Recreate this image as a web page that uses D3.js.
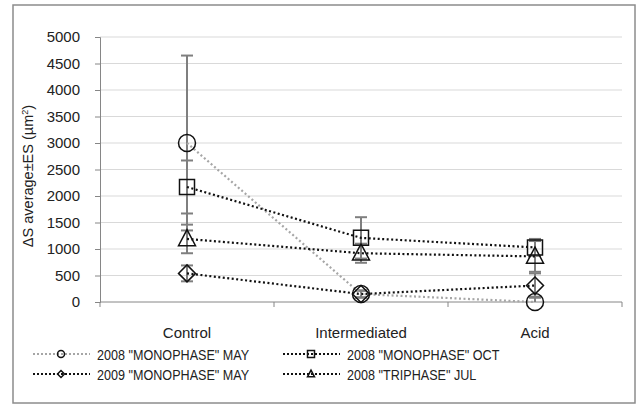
<!DOCTYPE html>
<html>
<head>
<meta charset="utf-8">
<script src="https://cdn.jsdelivr.net/npm/d3@7"></script>
<style>
  body { margin: 0; background: #fff; }
  text { font-family: "Liberation Sans", Arial, sans-serif; fill: #222; }
</style>
</head>
<body>
<div id="chart"></div>
<script>
const categories = ["Control", "Intermediated", "Acid"];
const yTicks = [0, 500, 1000, 1500, 2000, 2500, 3000, 3500, 4000, 4500, 5000];

const seriesNames = ['2008 "MONOPHASE" MAY', '2008 "MONOPHASE" OCT', '2009 "MONOPHASE" MAY', '2008 "TRIPHASE" JUL'];
const may2008 = [3000, 150, 0];
const may2008Err = [1650, 70, 100];
const oct2008 = [2170, 1210, 1030];
const oct2008Err = [500, 390, 160];
const may2009 = [540, 150, 310];
const may2009Err = [150, 60, 230];
const jul2008 = [1190, 920, 860];
const jul2008Err = [270, 180, 290];

const width = 638, height = 412;
const margin = {top: 37, right: 16, bottom: 110, left: 100};

const svg = d3.select("#chart").append("svg")
  .attr("width", width).attr("height", height);

// outer frame
svg.append("rect")
  .attr("x", 13).attr("y", 5).attr("width", 622).attr("height", 398)
  .attr("fill", "#fff").attr("stroke", "#8c8c8c").attr("stroke-width", 1.5);

const x = d3.scaleBand().domain(categories).range([margin.left, width - margin.right]);
const y = d3.scaleLinear().domain([0, 5000]).range([height - margin.bottom, margin.top]);
const cx = c => x(c) + x.bandwidth() / 2;

// grid
svg.append("g").selectAll("line").data(yTicks.slice(1)).join("line")
  .attr("x1", margin.left).attr("x2", width - margin.right)
  .attr("y1", d => y(d)).attr("y2", d => y(d))
  .attr("stroke", "#d9d9d9").attr("stroke-width", 1);

// y axis
const yAxis = svg.append("g")
  .attr("transform", `translate(${margin.left},0)`)
  .call(d3.axisLeft(y).tickValues(yTicks).tickFormat(d3.format("d")).tickSize(5).tickPadding(15));
yAxis.selectAll("line, path").attr("stroke", "#868686");
yAxis.selectAll("text").style("font-size", "15px")
  .style("font-family", '"Liberation Sans", Arial, sans-serif').attr("fill", "#222");

// x axis with ticks at band edges
const xAxisG = svg.append("g");
xAxisG.append("line")
  .attr("x1", margin.left).attr("x2", width - margin.right)
  .attr("y1", y(0)).attr("y2", y(0)).attr("stroke", "#868686");
const edges = categories.map(c => x(c)).concat([x(categories[2]) + x.bandwidth()]);
xAxisG.selectAll(".tk").data(edges).join("line")
  .attr("x1", d => d).attr("x2", d => d)
  .attr("y1", y(0)).attr("y2", y(0) + 5).attr("stroke", "#868686");
xAxisG.selectAll("text").data(categories).join("text")
  .attr("x", d => cx(d)).attr("y", y(0) + 36)
  .attr("text-anchor", "middle").style("font-size", "15px").text(d => d);

// y title
const title = svg.append("text")
  .attr("transform", `translate(33,176) rotate(-90)`)
  .attr("text-anchor", "middle").style("font-size", "14.5px");
title.append("tspan").text("ΔS average±ES (µm");
title.append("tspan").attr("baseline-shift", "super").style("font-size", "9px").text("2");
title.append("tspan").text(")");

// symbols
function symbolPath(type, s) {
  if (type === "circle") return `M${-s},0A${s},${s} 0 1,0 ${s},0A${s},${s} 0 1,0 ${-s},0Z`;
  if (type === "square") return `M${-s},${-s}H${s}V${s}H${-s}Z`;
  if (type === "diamond") return `M0,${-s}L${s},0L0,${s}L${-s},0Z`;
  if (type === "triangle") return `M0,${-s * 1.1}L${s},${s * 0.8}L${-s},${s * 0.8}Z`;
}

const series = [
  {name: seriesNames[0], values: may2008, err: may2008Err, shape: "circle", color: "#a6a6a6", size: 8.5},
  {name: seriesNames[1], values: oct2008, err: oct2008Err, shape: "square", color: "#111", size: 7.5},
  {name: seriesNames[2], values: may2009, err: may2009Err, shape: "diamond", color: "#111", size: 8.5},
  {name: seriesNames[3], values: jul2008, err: jul2008Err, shape: "triangle", color: "#111", size: 8.5}
];

const line = d3.line().x((d, i) => cx(categories[i])).y(d => y(d));

// error bars
series.forEach(s => {
  const g = svg.append("g").attr("stroke", "#7f7f7f").attr("stroke-width", 2);
  s.values.forEach((v, i) => {
    const px = cx(categories[i]);
    g.append("line").attr("x1", px).attr("x2", px)
      .attr("y1", y(v + s.err[i])).attr("y2", y(Math.max(0, v - s.err[i])));
    [v + s.err[i], v - s.err[i]].forEach(e => {
      if (e < 0) return;
      g.append("line").attr("x1", px - 6).attr("x2", px + 6)
        .attr("y1", y(e)).attr("y2", y(e));
    });
  });
});

// lines
series.forEach(s => {
  svg.append("path").datum(s.values)
    .attr("d", line).attr("fill", "none")
    .attr("stroke", s.color).attr("stroke-width", 2.2)
    .attr("stroke-dasharray", "2,2.5");
});

// markers
series.forEach(s => {
  svg.append("g").selectAll("path").data(s.values).join("path")
    .attr("transform", (d, i) => `translate(${cx(categories[i])},${y(d)})`)
    .attr("d", symbolPath(s.shape, s.size))
    .attr("fill", "none").attr("stroke", "#111").attr("stroke-width", 1.5);
});

// legend
const legendPos = [
  {x: 33, y: 354}, {x: 283, y: 354}, {x: 33, y: 374}, {x: 283, y: 374}
];
series.forEach((s, i) => {
  const p = legendPos[i];
  const g = svg.append("g").attr("transform", `translate(${p.x},${p.y})`);
  g.append("line").attr("x1", 0).attr("x2", 57).attr("y1", 0).attr("y2", 0)
    .attr("stroke", s.color).attr("stroke-width", 2.2).attr("stroke-dasharray", "2,2");
  g.append("path").attr("transform", "translate(28,0)")
    .attr("d", symbolPath(s.shape, 3.5))
    .attr("fill", "none").attr("stroke", "#111").attr("stroke-width", 1.5);
  g.append("text").attr("transform", "translate(64,5.5) scale(0.84,1)")
    .style("font-size", "15px").text(s.name);
});
</script>
</body>
</html>
